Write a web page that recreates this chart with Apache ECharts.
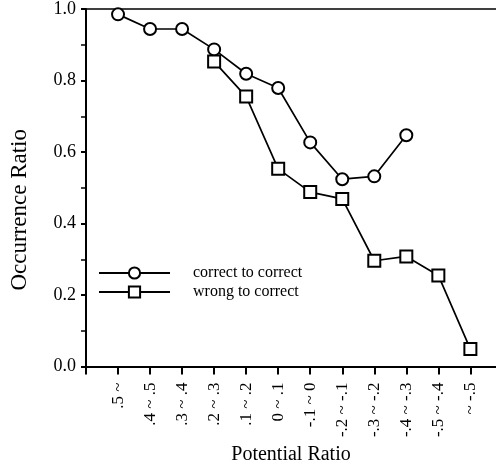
<!DOCTYPE html>
<html>
<head>
<meta charset="utf-8">
<script src="https://cdn.jsdelivr.net/npm/echarts@6/dist/echarts.min.js"></script>
<style>
  html, body { margin: 0; padding: 0; background: #fff; }
  #chart { width: 496px; height: 470px; }
</style>
</head>
<body>
<div id="chart"></div>
<script>
let categories = [".5 ~", ".4 ~ .5", ".3 ~ .4", ".2 ~ .3", ".1 ~ .2", "0 ~ .1",
  "-.1 ~ 0", "-.2 ~ -.1", "-.3 ~ -.2", "-.4 ~ -.3", "-.5 ~ -.4", "~ -.5"];
let correctToCorrect = [0.985, 0.944, 0.944, 0.887, 0.819, 0.779, 0.627, 0.524, 0.532, 0.647, null, null];
let wrongToCorrect = [null, null, null, 0.853, 0.755, 0.553, 0.488, 0.469, 0.296, 0.308, 0.255, 0.049];
let yTicks = [0, 0.2, 0.4, 0.6, 0.8, 1.0];

// categories sit at 1..n on a value axis so the origin tick stays empty
function toPoints(arr) {
  return arr.map((v, i) => [i + 1, v]);
}

let font = "Liberation Serif";

let option = {
  animation: false,
  grid: { left: 78, top: 8, right: 0, bottom: 97 },
  legend: {
    orient: "vertical",
    left: 98,
    top: 265,
    padding: 0,
    itemWidth: 71,
    itemHeight: 14,
    itemGap: 3,
    textStyle: { fontFamily: font, fontSize: 16, color: "#000", lineHeight: 14, padding: [0, 0, 0, 18] },
    data: ["correct to correct", "wrong to correct"],
  },
  xAxis: [
    {
      type: "value",
      min: 0,
      max: 12.8,
      interval: 1,
      name: "Potential Ratio",
      nameLocation: "middle",
      nameGap: 72,
      nameTextStyle: { fontFamily: font, fontSize: 20, color: "#000" },
      axisLine: { lineStyle: { color: "#000", width: 2 } },
      axisTick: { length: 8, lineStyle: { color: "#000", width: 2 } },
      axisLabel: {
        rotate: 90,
        margin: 16,
        fontFamily: font,
        fontSize: 17,
        color: "#000",
        showMaxLabel: false,
        formatter: (v) => (Number.isInteger(v) && v > 0 ? categories[v - 1] : ""),
      },
      splitLine: { show: false },
    },
    {
      type: "value",
      position: "top",
      min: 0,
      max: 12.8,
      axisLine: { show: true, lineStyle: { color: "#000", width: 1.5 } },
      axisTick: { show: false },
      axisLabel: { show: false },
      splitLine: { show: false },
    },
  ],
  yAxis: {
    type: "value",
    min: yTicks[0],
    max: yTicks[yTicks.length - 1],
    interval: 0.2,
    name: "Occurrence Ratio",
    nameLocation: "middle",
    nameGap: 55,
    nameTextStyle: { fontFamily: font, fontSize: 23, color: "#000", padding: [0, 44, 0, 0] },
    axisLine: { show: true, lineStyle: { color: "#000", width: 2 } },
    axisTick: { length: 5, lineStyle: { color: "#000", width: 2 } },
    minorTick: { show: true, splitNumber: 2, length: 5, lineStyle: { color: "#000", width: 1.5 } },
    axisLabel: {
      margin: 10,
      fontFamily: font,
      fontSize: 18,
      color: "#000",
      formatter: (v) => v.toFixed(1),
    },
    splitLine: { show: false },
  },
  series: [
    {
      name: "correct to correct",
      type: "line",
      data: toPoints(correctToCorrect),
      symbol: "circle",
      symbolSize: 12,
      lineStyle: { color: "#000", width: 1.7 },
      itemStyle: { color: "#fff", borderColor: "#000", borderWidth: 2 },
    },
    {
      name: "wrong to correct",
      type: "line",
      data: toPoints(wrongToCorrect),
      symbol: "rect",
      symbolSize: 12,
      lineStyle: { color: "#000", width: 1.7 },
      itemStyle: { color: "#fff", borderColor: "#000", borderWidth: 2 },
    },
  ],
};

let myChart = echarts.init(document.getElementById("chart"));
myChart.setOption(option, true);
</script>
</body>
</html>
